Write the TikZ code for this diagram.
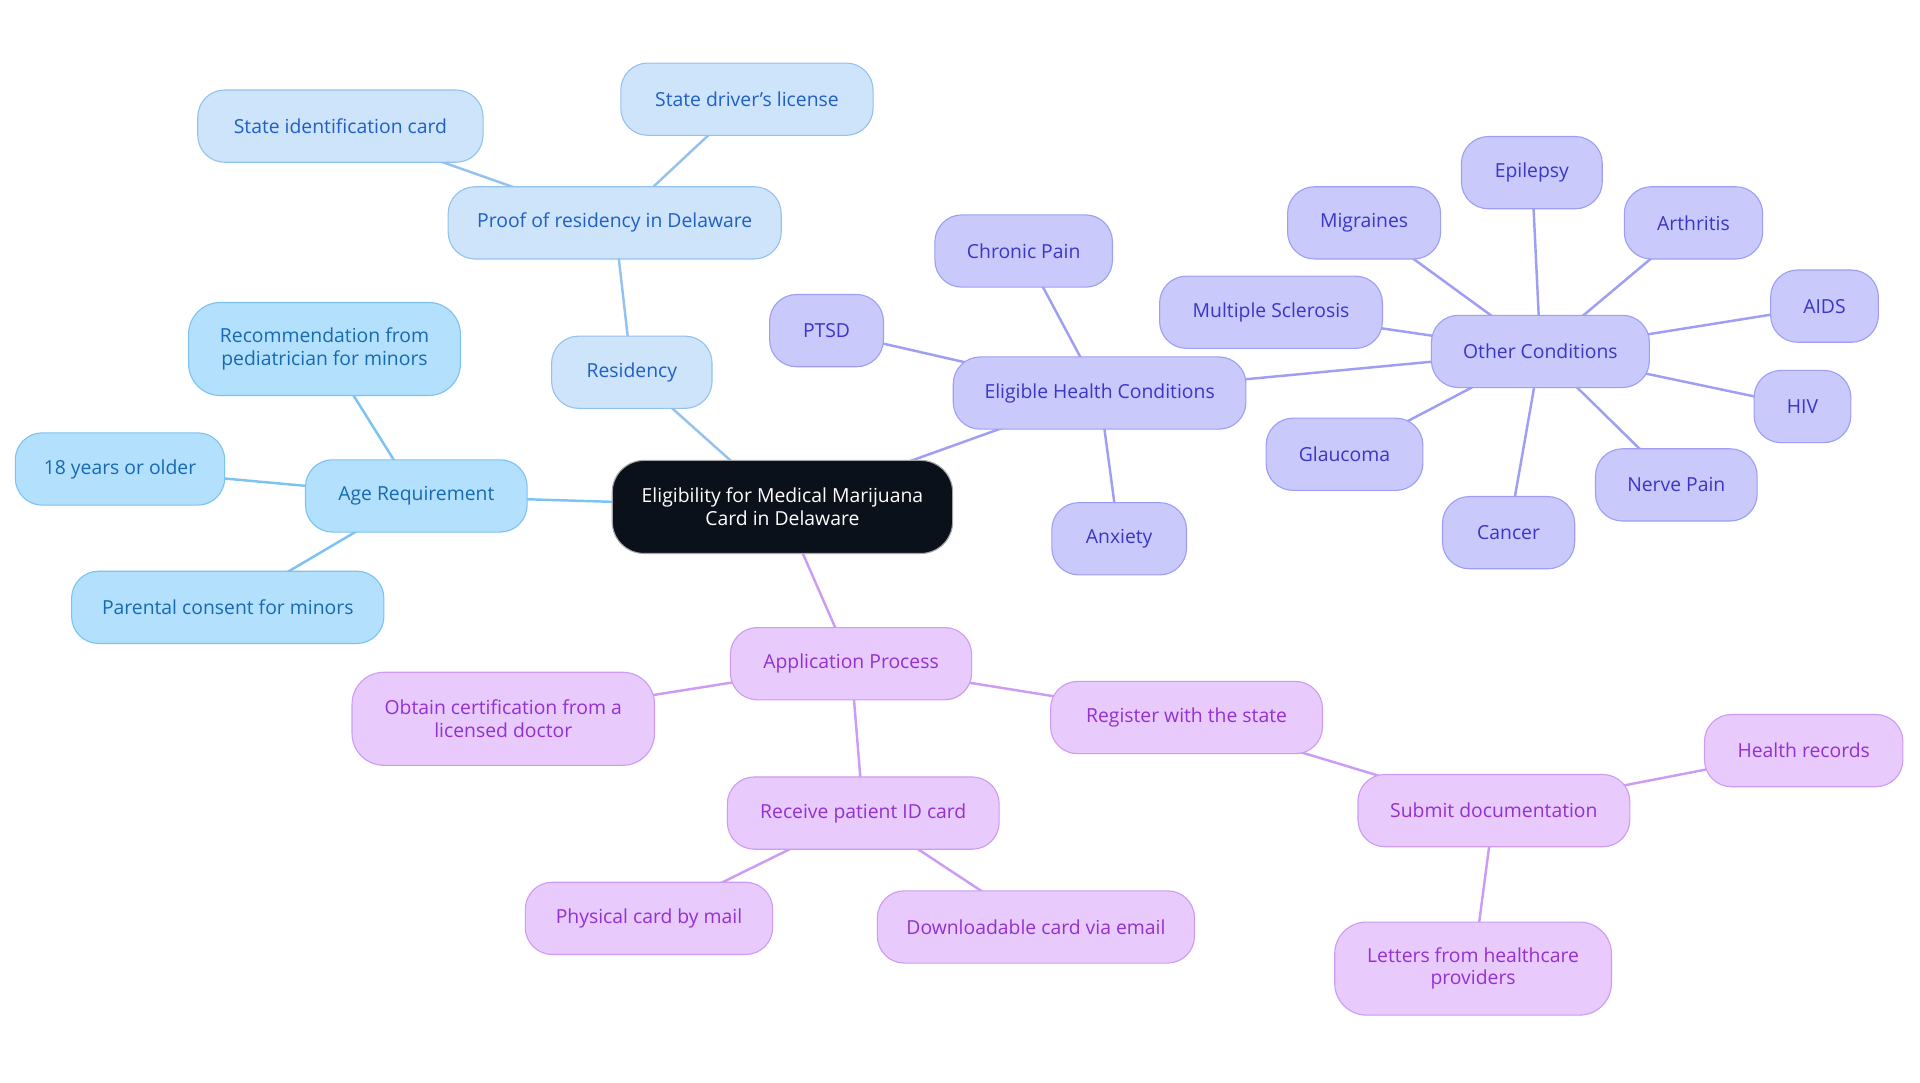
\documentclass[tikz,border=0pt]{standalone}
\usepackage{fontspec}
\setmainfont{Open Sans}
\usetikzlibrary{backgrounds}
\definecolor{ageF}{HTML}{B3E0FD}
\definecolor{ageD}{HTML}{7CC2F2}
\definecolor{ageT}{HTML}{1769B3}
\definecolor{resF}{HTML}{CDE4FB}
\definecolor{resD}{HTML}{94C2EF}
\definecolor{resT}{HTML}{1F5FC6}
\definecolor{heaF}{HTML}{C9C9FC}
\definecolor{heaD}{HTML}{9E9EF4}
\definecolor{heaT}{HTML}{3A36C6}
\definecolor{appF}{HTML}{E8CAFC}
\definecolor{appD}{HTML}{CC9CF4}
\definecolor{appT}{HTML}{9231D1}
\definecolor{rootF}{HTML}{0B111B}
\begin{document}
\begin{tikzpicture}[x=1pt,y=-1pt,
  font=\fontsize{15.8}{18.5}\selectfont,
  box/.style={rounded corners=22pt, draw, line width=0.9pt, align=center, inner sep=0pt, minimum height=59pt},
  agebox/.style={box, fill=ageF, draw=ageD, text=ageT},
  resbox/.style={box, fill=resF, draw=resD, text=resT},
  heabox/.style={box, fill=heaF, draw=heaD, text=heaT},
  appbox/.style={box, fill=appF, draw=appD, text=appT},
  tall/.style={minimum height=76pt, rounded corners=26pt},
  ageline/.style={draw=ageD, line width=2pt},
  resline/.style={draw=resD, line width=2pt},
  healine/.style={draw=heaD, line width=2pt},
  appline/.style={draw=appD, line width=2pt}
]
\useasboundingbox (0,0) rectangle (1568,884);
% root
\node[box, tall, fill=rootF, draw=gray!70, text=white, minimum width=278pt] (root) at (639,414) {Eligibility for Medical Marijuana\\Card in Delaware};
% residency branch
\node[resbox, minimum width=131pt] (res) at (516,304) {Residency};
\node[resbox, minimum width=272pt] (proof) at (502,182) {Proof of residency in Delaware};
\node[resbox, minimum width=233pt] (sid) at (278,103) {State identification card};
\node[resbox, minimum width=206pt] (sdl) at (610,81) {State driver’s license};
% age branch
\node[agebox, minimum width=181pt] (age) at (340,405) {Age Requirement};
\node[agebox, tall, minimum width=222pt] (rec) at (265,285) {Recommendation from\\pediatrician for minors};
\node[agebox, minimum width=171pt] (eigh) at (98,383) {18 years or older};
\node[agebox, minimum width=255pt] (par) at (186,496) {Parental consent for minors};
% health branch
\node[heabox, minimum width=239pt] (ehc) at (898,321) {Eligible Health Conditions};
\node[heabox, minimum width=93pt] (ptsd) at (675,270) {PTSD};
\node[heabox, minimum width=145pt] (chp) at (836,205) {Chronic Pain};
\node[heabox, minimum width=110pt] (anx) at (914,440) {Anxiety};
\node[heabox, minimum width=178pt] (oth) at (1258,287) {Other Conditions};
\node[heabox, minimum width=182pt] (ms) at (1038,255) {Multiple Sclerosis};
\node[heabox, minimum width=125pt] (mig) at (1114,182) {Migraines};
\node[heabox, minimum width=115pt] (epi) at (1251,141) {Epilepsy};
\node[heabox, minimum width=113pt] (art) at (1383,182) {Arthritis};
\node[heabox, minimum width=88pt] (aids) at (1490,250) {AIDS};
\node[heabox, minimum width=79pt] (hiv) at (1472,332) {HIV};
\node[heabox, minimum width=132pt] (nerve) at (1369,396) {Nerve Pain};
\node[heabox, minimum width=108pt] (can) at (1232,435) {Cancer};
\node[heabox, minimum width=128pt] (gla) at (1098,371) {Glaucoma};
% application branch
\node[appbox, minimum width=197pt] (app) at (695,542) {Application Process};
\node[appbox, tall, minimum width=247pt] (obt) at (411,587) {Obtain certification from a\\licensed doctor};
\node[appbox, minimum width=222pt] (reg) at (969,586) {Register with the state};
\node[appbox, minimum width=222pt] (rcv) at (705,664) {Receive patient ID card};
\node[appbox, minimum width=202pt] (phy) at (530,750) {Physical card by mail};
\node[appbox, minimum width=259pt] (dl) at (846,757) {Downloadable card via email};
\node[appbox, minimum width=222pt] (sub) at (1220,662) {Submit documentation};
\node[appbox, minimum width=162pt] (hr) at (1473,613) {Health records};
\node[appbox, tall, minimum width=226pt] (let) at (1203,791) {Letters from healthcare\\providers};
\begin{pgfonlayer}{background}
\fill[white] (0,0) rectangle (1568,884);
\draw[resline] (root.center) -- (res.center);
\draw[resline] (res.center) -- (proof.center);
\draw[resline] (proof.center) -- (sid.center);
\draw[resline] (proof.center) -- (sdl.center);
\draw[ageline] (root.center) -- (age.center);
\draw[ageline] (age.center) -- (rec.center);
\draw[ageline] (age.center) -- (eigh.center);
\draw[ageline] (age.center) -- (par.center);
\draw[healine] (root.center) -- (ehc.center);
\draw[healine] (ehc.center) -- (ptsd.center);
\draw[healine] (ehc.center) -- (chp.center);
\draw[healine] (ehc.center) -- (anx.center);
\draw[healine] (ehc.center) -- (oth.center);
\draw[healine] (oth.center) -- (ms.center);
\draw[healine] (oth.center) -- (mig.center);
\draw[healine] (oth.center) -- (epi.center);
\draw[healine] (oth.center) -- (art.center);
\draw[healine] (oth.center) -- (aids.center);
\draw[healine] (oth.center) -- (hiv.center);
\draw[healine] (oth.center) -- (nerve.center);
\draw[healine] (oth.center) -- (can.center);
\draw[healine] (oth.center) -- (gla.center);
\draw[appline] (root.center) -- (app.center);
\draw[appline] (app.center) -- (obt.center);
\draw[appline] (app.center) -- (reg.center);
\draw[appline] (app.center) -- (rcv.center);
\draw[appline] (rcv.center) -- (phy.center);
\draw[appline] (rcv.center) -- (dl.center);
\draw[appline] (reg.center) -- (sub.center);
\draw[appline] (sub.center) -- (hr.center);
\draw[appline] (sub.center) -- (let.center);
\end{pgfonlayer}
\end{tikzpicture}
\end{document}
